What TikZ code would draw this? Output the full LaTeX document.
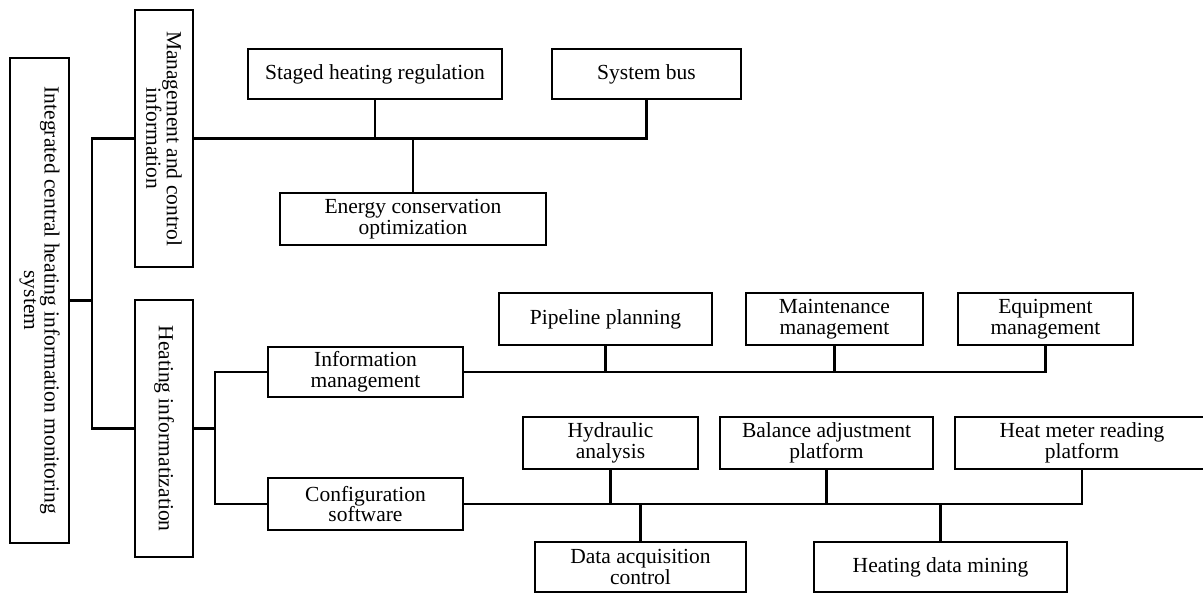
\documentclass[tikz,border=0pt]{standalone}
\usepackage{fontspec}
\setmainfont{Liberation Serif}
\begin{document}
\begin{tikzpicture}[x=1pt,y=-1pt,
  box/.style={draw, line width=2.1pt, inner sep=0pt, align=center,
    font=\fontsize{21.5pt}{20.5pt}\selectfont},
  vlabel/.style={rotate=-90, align=center, inner sep=0pt,
    font=\fontsize{21.5pt}{20.5pt}\selectfont},
  link/.style={line width=2.1pt}]
\useasboundingbox (0,0) rectangle (1203,593);
% vertical boxes
\node[box, minimum width=59pt, minimum height=485pt] (main) at (39.5,300.5) {};
\node[vlabel] (mainT) at (main.center) {Integrated central heating information monitoring\\system};
\node[box, minimum width=58pt, minimum height=257pt] (mgmt) at (164,138.5) {};
\node[vlabel] (mgmtT) at (mgmt.center) {Management and control\\information};
\node[box, minimum width=58pt, minimum height=257pt] (heat) at (164,428.5) {};
\node[vlabel] (heatT) at (heat.center) {Heating informatization};
% management branch
\node[box, minimum width=254pt, minimum height=50pt] (staged) at (375,74) {Staged heating regulation};
\node[box, minimum width=189pt, minimum height=50pt] (sysbus) at (646.5,74) {System bus};
\node[box, minimum width=266pt, minimum height=52pt] (energy) at (413,219) {Energy conservation\\optimization};
% heating branch
\node[box, minimum width=195pt, minimum height=50pt] (info) at (365.5,372) {Information\\management};
\node[box, minimum width=195pt, minimum height=52pt] (config) at (365.5,504) {Configuration\\software};
\node[box, minimum width=213pt, minimum height=52pt] (pipe) at (605.5,319) {Pipeline planning};
\node[box, minimum width=177pt, minimum height=52pt] (maint) at (834.5,319) {Maintenance\\management};
\node[box, minimum width=175pt, minimum height=52pt] (equip) at (1045.5,319) {Equipment\\management};
\node[box, minimum width=175pt, minimum height=52pt] (hydr) at (610.5,443) {Hydraulic\\analysis};
\node[box, minimum width=213pt, minimum height=52pt] (bal) at (826.5,443) {Balance adjustment\\platform};
\node[box, minimum width=254pt, minimum height=52pt] (meter) at (1082,443) {Heat meter reading\\platform};
\node[box, minimum width=211pt, minimum height=50pt] (daq) at (640.5,567) {Data acquisition\\control};
\node[box, minimum width=253pt, minimum height=50pt] (mining) at (940.5,567) {Heating data mining};
% junctions
\coordinate (j1) at (92,300.5);
\coordinate (j2) at (215,428.5);
% connectors
\draw[link] (main.east) -- (j1);
\draw[link] (mgmt.west) -| (j1) |- (heat.west);
\draw[link] (mgmt.east) -| (sysbus.south);
\draw[link] (staged.south) -- (staged.south |- mgmt.east);
\draw[link] (energy.north) -- (energy.north |- mgmt.east);
\draw[link] (heat.east) -- (j2);
\draw[link] (info.west) -| (j2) |- (config.west);
\draw[link] (info.east) -| (equip.south);
\draw[link] (pipe.south) -- (pipe.south |- info.east);
\draw[link] (maint.south) -- (maint.south |- info.east);
\draw[link] (config.east) -| (meter.south);
\draw[link] (hydr.south) -- (hydr.south |- config.east);
\draw[link] (bal.south) -- (bal.south |- config.east);
\draw[link] (daq.north) -- (daq.north |- config.east);
\draw[link] (mining.north) -- (mining.north |- config.east);
\end{tikzpicture}
\end{document}
